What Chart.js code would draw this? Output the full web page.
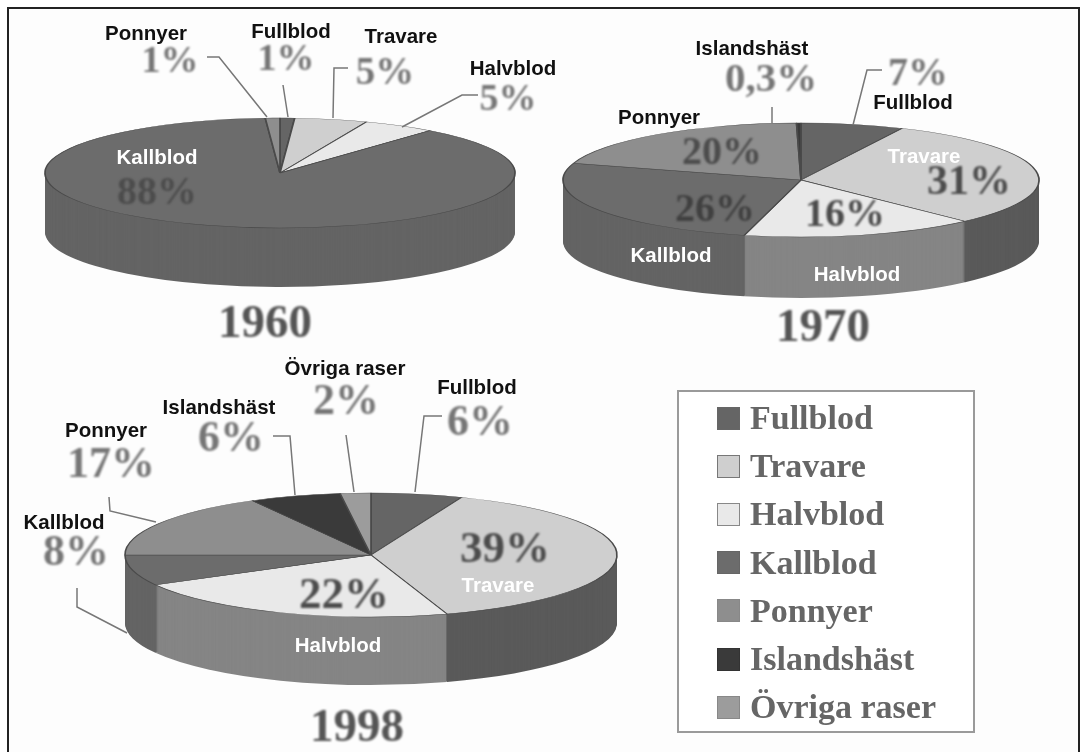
<!DOCTYPE html>
<html>
<head>
<meta charset="utf-8">
<title>Hästraser 1960, 1970, 1998</title>
<script src="https://cdn.jsdelivr.net/npm/chart.js@4"></script>
<style>
  html, body { margin: 0; padding: 0; background: #fff; overflow: hidden; }
  #page { position: relative; width: 1082px; height: 752px; overflow: hidden; }
  #frame { position: absolute; left: 7px; top: 7px; width: 1069px; height: 760px;
           border: 2.5px solid #222; background: #fdfdfd; }
  canvas { position: absolute; filter: blur(0.6px); }
  svg { position: absolute; left: 0; top: 0; filter: blur(0.4px); }
  .t { position: absolute; transform: translate(-50%, -50%); white-space: nowrap; line-height: 1; }
  .name { font: bold 20.5px "Liberation Sans", sans-serif; }
  .pct { font-family: "Liberation Serif", serif; font-weight: bold; filter: blur(0.8px); }
  #legend { position: absolute; left: 677px; top: 390px; width: 294px; height: 339px;
            border: 2px solid #9a9a9a; background: #fff; filter: blur(0.7px); }
  .swatch { position: absolute; left: 38px; width: 23px; height: 23px; box-sizing: border-box; }
  .entry { position: absolute; left: 71px; font: bold 34px "Liberation Serif", serif; color: #666;
           line-height: 1; transform: translateY(-50%); white-space: nowrap; }
</style>
</head>
<body>
<div id="page">
  <div id="frame"></div>
  <canvas id="pie1960" width="500" height="190" style="left:30px;top:108px"></canvas>
  <canvas id="pie1970" width="500" height="196" style="left:552px;top:114px"></canvas>
  <canvas id="pie1998" width="520" height="212" style="left:111px;top:483px"></canvas>
  <svg id="leaders" width="1082" height="752"></svg>
  <div id="legend"></div>
</div>
<script>
  const categories = ["Fullblod", "Travare", "Halvblod", "Kallblod", "Ponnyer", "Islandshäst", "Övriga raser"];
  const values1960 = [1, 5, 5, 88, 1, 0, 0];
  const values1970 = [7, 31, 16, 26, 20, 0.3, 0];
  const values1998 = [6, 39, 22, 8, 17, 6, 2];

  const topColors = ["#656565", "#cfcfcf", "#e9e9e9", "#6c6c6c", "#8e8e8e", "#3a3a3a", "#9c9c9c"];
  const wallColors = ["#5a5a5a", "#5a5a5a", "#858585", "#646464", "#777777", "#2e2e2e", "#808080"];
  const legendBorders = ["#666", "#777", "#888", "#666", "#888", "#333", "#888"];

  // where each flat pie ends up on the page (ellipse centre, radii, wall height)
  const pies = [
    { id: "pie1960", values: values1960, cx: 280, cy: 173, rx: 235, ry: 55, depth: 59 },
    { id: "pie1970", values: values1970, cx: 801, cy: 180, rx: 238, ry: 57, depth: 61 },
    { id: "pie1998", values: values1998, cx: 371, cy: 555, rx: 246, ry: 62, depth: 68 },
  ];

  const GREY = "#767676", DARK = "#4c4c4c";

  // [text, x, y]
  const blackNames = [
    ["Ponnyer", 146, 33], ["Fullblod", 291, 31], ["Travare", 401, 36], ["Halvblod", 513, 68],
    ["Islandshäst", 752, 48], ["Fullblod", 913, 102], ["Ponnyer", 659, 117],
    ["Övriga raser", 345, 368], ["Fullblod", 477, 387], ["Islandshäst", 219, 407],
    ["Ponnyer", 106, 430], ["Kallblod", 64, 522],
  ];
  const whiteNames = [
    ["Kallblod", 157, 157], ["Travare", 924, 156], ["Kallblod", 671, 255], ["Halvblod", 857, 274],
    ["Travare", 498, 585], ["Halvblod", 338, 645],
  ];
  // [text, x, y, font size, colour]
  const pctLabels = [
    ["1%", 170, 59, 38, GREY], ["1%", 286, 57, 38, GREY], ["5%", 385, 70, 39, GREY], ["5%", 508, 97, 38, GREY],
    ["88%", 157, 191, 40, DARK],
    ["0,3%", 771, 77, 41, GREY], ["7%", 918, 72, 40, GREY], ["20%", 722, 151, 40, DARK],
    ["31%", 969, 180, 42, DARK], ["26%", 715, 208, 40, "#404040"], ["16%", 845, 213, 40, DARK],
    ["2%", 346, 400, 44, GREY], ["6%", 480, 421, 44, GREY], ["6%", 231, 437, 44, GREY],
    ["17%", 111, 463, 44, GREY], ["8%", 76, 551, 44, GREY], ["39%", 505, 547, 45, DARK], ["22%", 344, 593, 45, DARK],
    ["1960", 265, 321, 47, "#555"], ["1970", 823, 325, 47, "#555"], ["1998", 357, 725, 47, "#555"],
  ];
  const leaderLines = [
    "207,57 219,57 267,117", "283,85 288,117", "348,68 334,68 333,118", "478,95 462,95 402,127",
    "772,107 772,123", "882,70 867,70 853,125",
    "442,416 424,416 415,492", "346,435 354,492", "273,436 290,436 295,495",
    "109,497 110,511 156,522", "77,588 77,607 127,633",
  ];

  // squash the flat pie into an ellipse and stack coloured copies below it for the wall
  const tiltPlugin = {
    id: "tilt",
    beforeDatasetsDraw(chart, args, opts) {
      const arcs = chart.getDatasetMeta(0).data;
      const a0 = arcs[0];
      const box = chart.canvas.getBoundingClientRect();
      const ctx = chart.ctx;
      const place = (dy) => {
        ctx.translate(opts.cx - box.left, opts.cy - box.top + dy);
        ctx.scale(opts.rx / a0.outerRadius, opts.ry / a0.outerRadius);
        ctx.translate(-a0.x, -a0.y);
      };
      for (let dy = opts.depth; dy > 0; dy--) {
        ctx.save();
        place(dy);
        arcs.forEach((arc, i) => {
          if (arc.circumference <= 0) return;
          const keep = arc.options;
          arc.options = Object.assign({}, keep, { backgroundColor: wallColors[i], borderWidth: 0 });
          arc.draw(ctx);
          arc.options = keep;
        });
        ctx.restore();
      }
      ctx.save();
      place(0);
    },
    afterDatasetsDraw(chart) {
      chart.ctx.restore();
    },
  };

  for (const p of pies) {
    new Chart(document.getElementById(p.id), {
      type: "pie",
      plugins: [tiltPlugin],
      data: {
        labels: categories,
        datasets: [{
          data: p.values,
          backgroundColor: topColors,
          borderColor: "#4a4a4a",
          borderWidth: 0.7,
          clip: false,
        }],
      },
      options: {
        responsive: false,
        animation: false,
        events: [],
        layout: { padding: 0 },
        plugins: {
          legend: { display: false },
          tooltip: { enabled: false },
          tilt: { cx: p.cx, cy: p.cy, rx: p.rx, ry: p.ry, depth: p.depth },
        },
      },
    });
  }

  const page = document.getElementById("page");
  const addText = (text, x, y, cls, style) => {
    const el = document.createElement("div");
    el.className = "t " + cls;
    el.textContent = text;
    el.style.cssText = `left:${x}px;top:${y}px;${style}`;
    page.appendChild(el);
  };
  for (const [s, x, y] of blackNames) addText(s, x, y, "name", "color:#111");
  for (const [s, x, y] of whiteNames) addText(s, x, y, "name", "color:#fff");
  for (const [s, x, y, size, col] of pctLabels) addText(s, x, y, "pct", `font-size:${size}px;color:${col}`);

  const svg = document.getElementById("leaders");
  for (const pts of leaderLines) {
    const line = document.createElementNS("http://www.w3.org/2000/svg", "polyline");
    line.setAttribute("points", pts);
    line.setAttribute("fill", "none");
    line.setAttribute("stroke", "#777");
    line.setAttribute("stroke-width", "1.5");
    svg.appendChild(line);
  }

  // legend, rows 48px apart
  const legend = document.getElementById("legend");
  categories.forEach((name, i) => {
    const rowY = 26 + i * 48.2;
    const sw = document.createElement("div");
    sw.className = "swatch";
    sw.style.cssText = `top:${rowY - 11.5}px;background:${topColors[i]};border:1px solid ${legendBorders[i]}`;
    legend.appendChild(sw);
    const label = document.createElement("div");
    label.className = "entry";
    label.style.top = rowY + "px";
    label.textContent = name;
    legend.appendChild(label);
  });
</script>
</body>
</html>
